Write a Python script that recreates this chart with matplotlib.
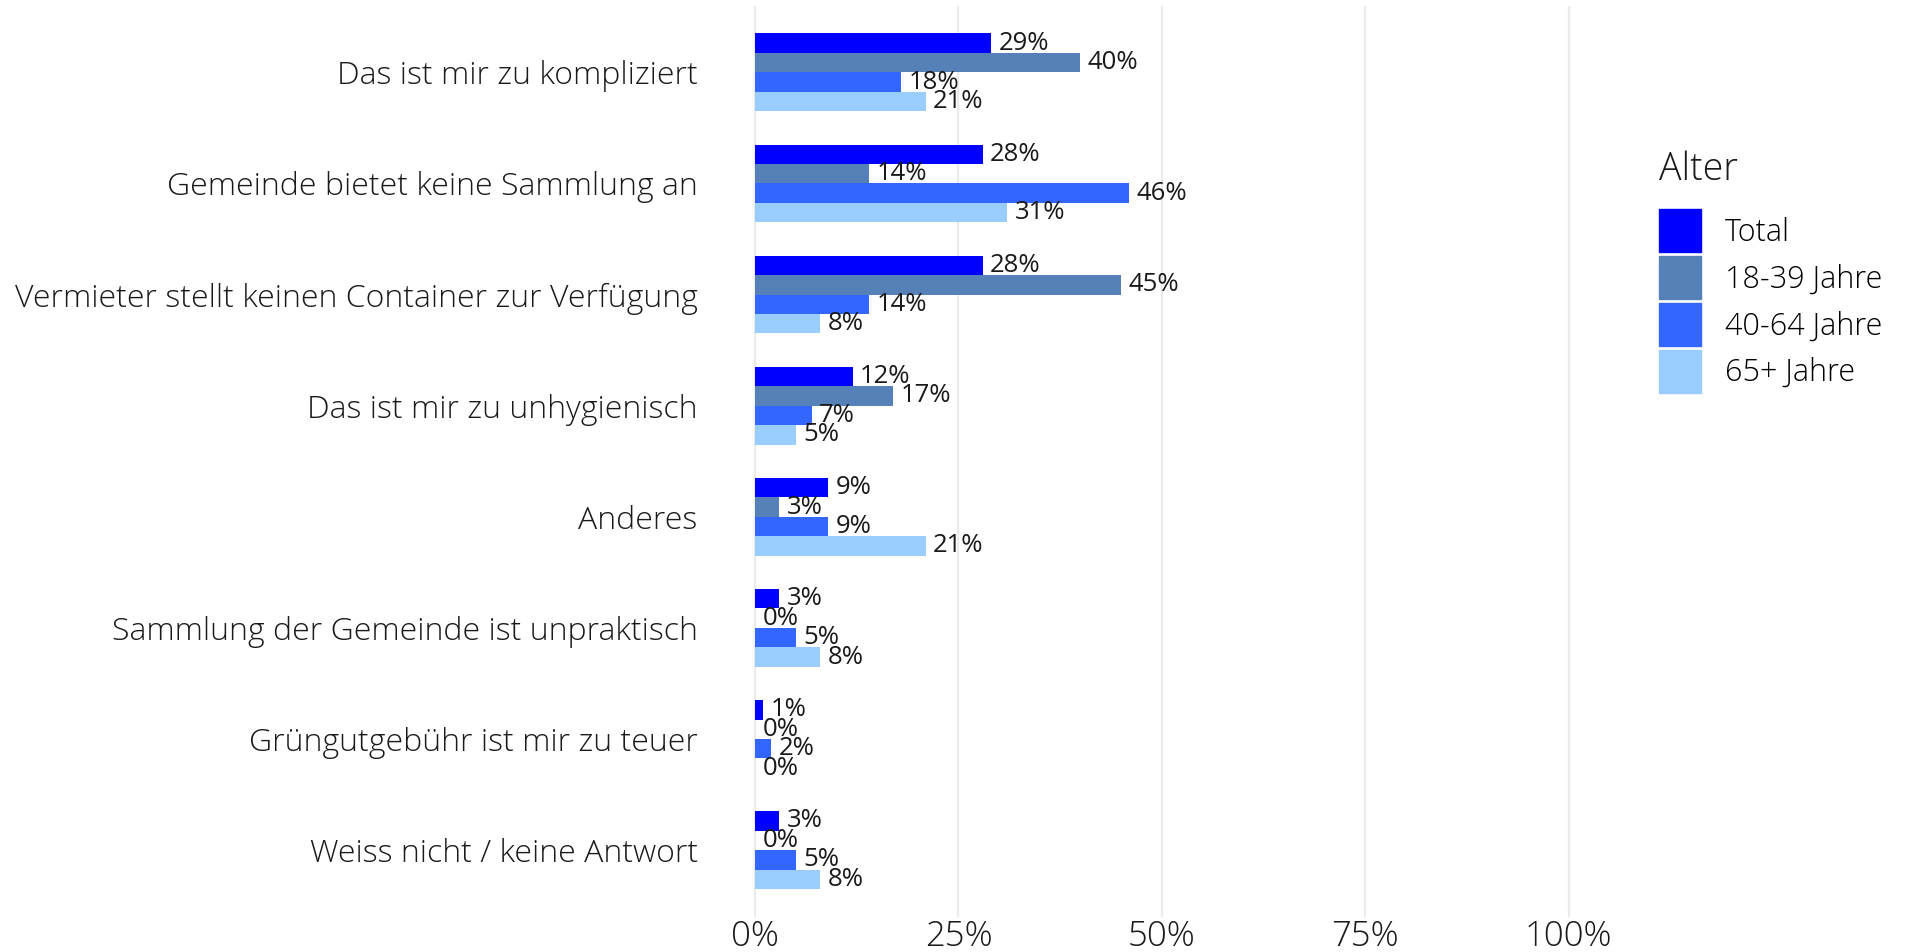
import numpy as np
import matplotlib.pyplot as plt
from matplotlib.patches import Patch

categories = [
    "Das ist mir zu kompliziert",
    "Gemeinde bietet keine Sammlung an",
    "Vermieter stellt keinen Container zur Verfügung",
    "Das ist mir zu unhygienisch",
    "Anderes",
    "Sammlung der Gemeinde ist unpraktisch",
    "Grüngutgebühr ist mir zu teuer",
    "Weiss nicht / keine Antwort",
]
groups = ["Total", "18-39 Jahre", "40-64 Jahre", "65+ Jahre"]
total = [29, 28, 28, 12, 9, 3, 1, 3]
age_18_39 = [40, 14, 45, 17, 3, 0, 0, 0]
age_40_64 = [18, 46, 14, 7, 9, 5, 2, 5]
age_65 = [21, 31, 8, 5, 21, 8, 0, 8]
ticks = [0, 25, 50, 75, 100]

colors = ["#0000FF", "#5580B8", "#3366FF", "#99CCFF"]
series = [total, age_18_39, age_40_64, age_65]

plt.rcParams['font.family'] = ['Open Sans', 'DejaVu Sans']
plt.rcParams['font.weight'] = 'light'

fig = plt.figure(figsize=(19.1, 9.52), dpi=100)
ax = fig.add_axes([0.374, 0.037, 0.4686, 0.957])

y = np.arange(len(categories))
bar_h = 0.175
for i, (vals, col) in enumerate(zip(series, colors)):
    pos = y - 0.35 + bar_h * (i + 0.5)
    ax.barh(pos, vals, height=bar_h, color=col, zorder=2)
    for p, v in zip(pos, vals):
        ax.text(v + 0.9, p, f"{v}%", va='center', ha='left', fontsize=18.5,
                fontweight='normal', color='#1a1a1a', zorder=3)

ax.set_ylim(len(categories) - 0.4, -0.6)
ax.set_xlim(-5, 105)
ax.set_xticks(ticks)
ax.set_xticklabels([f"{t}%" for t in ticks], fontsize=25, color='#1a1a1a')
ax.set_yticks(y)
ax.set_yticklabels(categories, fontsize=23, color='#1a1a1a')
ax.tick_params(length=0, axis='y', pad=12)
ax.tick_params(length=0, axis='x', pad=2)
ax.grid(axis='x', color='#EBEBEB', linewidth=1.6, zorder=0)
for s in ax.spines.values():
    s.set_visible(False)

fig.text(0.8686, 0.811, "Alter", fontsize=27, color='#1a1a1a', va='baseline')
handles = [Patch(color=c, label=g) for c, g in zip(colors, groups)]
fig.legend(handles=handles, loc='upper left', bbox_to_anchor=(0.8686, 0.78),
           frameon=False, fontsize=22, handlelength=1.37, handleheight=1.78,
           handletextpad=0.8, labelspacing=0.13, borderaxespad=0, borderpad=0)

fig.savefig('out.png', dpi=100)
